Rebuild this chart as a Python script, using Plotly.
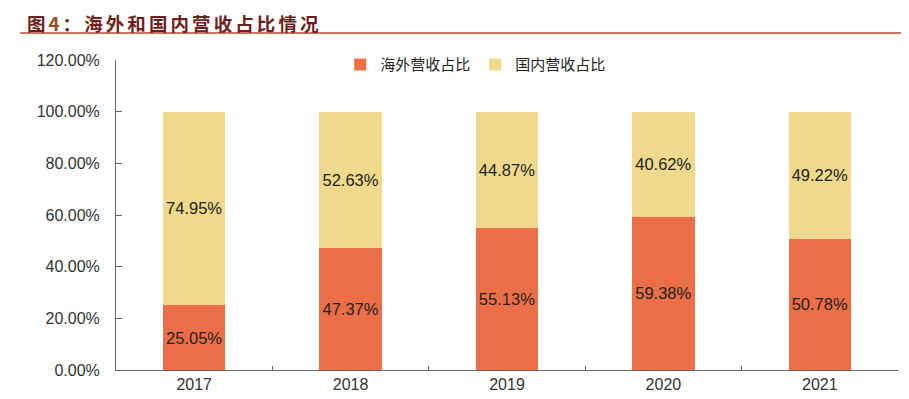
import plotly.graph_objects as go

years = ["2017", "2018", "2019", "2020", "2021"]
overseas = [25.05, 47.37, 55.13, 59.38, 50.78]
domestic = [74.95, 52.63, 44.87, 40.62, 49.22]
y_ticks = [0, 20, 40, 60, 80, 100, 120]
y_tick_labels = ["0.00%", "20.00%", "40.00%", "60.00%", "80.00%", "100.00%", "120.00%"]
title_text = "海外和国内营收占比情况"

LABEL_FONT = dict(family="Liberation Sans, Arial", size=16.5, color="#222222")

fig = go.Figure()
fig.add_trace(go.Bar(
    x=years, y=overseas, name="海外营收占比",
    marker=dict(color="#EC6F48", line=dict(width=0)),
    text=[f"{v:.2f}%" for v in overseas], textposition="inside",
    insidetextanchor="middle", textfont=LABEL_FONT,
))
fig.add_trace(go.Bar(
    x=years, y=domestic, name="国内营收占比",
    marker=dict(color="#EFD98D", line=dict(width=0)),
    text=[f"{v:.2f}%" for v in domestic], textposition="inside",
    insidetextanchor="middle", textfont=LABEL_FONT,
))

PW, PH = 782, 310
fig.update_layout(
    barmode="stack",
    bargap=0.6,
    width=901, height=391,
    margin=dict(l=108, r=11, t=52, b=29, autoexpand=False),
    plot_bgcolor="white", paper_bgcolor="white",
    showlegend=True,
    legend=dict(orientation="h", x=0.46, xanchor="center", y=0.985, yanchor="middle",
                font=dict(family="Noto Sans CJK SC", size=15, color="#222222"),
                itemwidth=30, traceorder="normal", bgcolor="rgba(0,0,0,0)"),
    uniformtext=dict(mode="show", minsize=10),
)
fig.update_xaxes(
    type="category", range=[-0.5, 4.5], automargin=False,
    showline=True, linecolor="#666666", linewidth=1,
    ticks="inside", tickson="boundaries", ticklen=4, tickcolor="#666666",
    tickfont=dict(family="Liberation Sans, Arial", size=16, color="#333333"),
    showgrid=False,
)
fig.update_yaxes(
    range=[0, 120], tickvals=y_ticks, ticktext=y_tick_labels, automargin=False,
    showline=True, linecolor="#666666", linewidth=1,
    ticks="inside", ticklen=6, tickcolor="#666666",
    tickfont=dict(family="Liberation Sans, Arial", size=16, color="#333333"),
    ticklabelstandoff=12,
    showgrid=False, zeroline=False,
)

sp = "\u2006"
title_html = ("<b>图" + sp + "<span style='color:#9A4A22'>4</span>" + sp + "：" + sp
              + sp.join(title_text) + "</b>")
fig.add_annotation(
    xref="paper", yref="paper", x=-91 / PW, y=1 + 52 / PH, xanchor="left", yanchor="top",
    text=title_html, showarrow=False,
    font=dict(family="Noto Sans CJK SC", size=18.5, color="#6E1F1C"),
)
fig.add_shape(
    type="line", xref="paper", yref="paper",
    x0=-96 / PW, x1=1 + 11 / PW, y0=1 + 27 / PH, y1=1 + 27 / PH,
    line=dict(color="#C0462A", width=1.5),
)

fig.write_html("out.html")
